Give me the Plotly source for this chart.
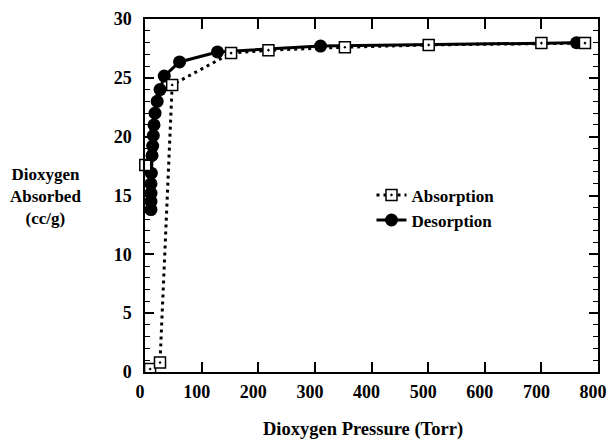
import plotly.graph_objects as go

# Absorption (open squares, dotted line)
abs_x = [9, 26.5, 48, 152, 218, 353, 501, 700, 777]
abs_y = [0.25, 0.8, 24.4, 27.1, 27.35, 27.6, 27.8, 27.95, 27.95]

# Desorption (filled circles, solid line) - listed from high to low pressure
des_x = [762, 310, 128, 61, 34, 26.5, 21.5, 17.7, 15.9, 14.7, 13.6, 12.4, 11.1, 10.6, 10.5, 10.5, 10.5]
des_y = [27.98, 27.7, 27.2, 26.35, 25.15, 24.0, 23.0, 22.0, 21.0, 20.1, 19.2, 18.4, 16.9, 16.0, 15.2, 14.5, 13.8]

# stray open square at the axis
extra_x = [0.5]
extra_y = [17.6]

x_ticks = [0, 100, 200, 300, 400, 500, 600, 700, 800]
y_ticks = [0, 5, 10, 15, 20, 25, 30]

FONT = "Liberation Serif"

fig = go.Figure()
fig.add_trace(go.Scatter(
    x=des_x, y=des_y, mode="lines+markers", name="<b>Desorption</b>",
    line=dict(color="black", width=3),
    marker=dict(symbol="circle", size=13, color="black"),
    legendrank=2,
))
fig.add_trace(go.Scatter(
    x=abs_x, y=abs_y, mode="lines+markers", name="<b>Absorption</b>",
    line=dict(color="black", width=3, dash="3px,4px"),
    marker=dict(symbol="square-dot", size=11, color="white",
                line=dict(color="black", width=1.5)),
    legendrank=1,
))
fig.add_trace(go.Scatter(
    x=extra_x, y=extra_y, mode="markers", showlegend=False,
    marker=dict(symbol="square", size=11, color="white",
                line=dict(color="black", width=1.5)),
    cliponaxis=False,
))

fig.update_layout(
    width=608, height=441,
    margin=dict(l=145, r=10, t=19, b=69, autoexpand=False),
    paper_bgcolor="white", plot_bgcolor="white",
    font=dict(family=FONT, size=17, color="black"),
    showlegend=True,
    legend=dict(x=0.5, y=0.465, xanchor="left", yanchor="middle",
                bgcolor="rgba(0,0,0,0)", font=dict(family=FONT, size=17),
                tracegroupgap=0),
    xaxis=dict(
        range=[0, 800], tickvals=x_ticks,
        ticktext=["<b>%d</b>" % v for v in x_ticks],
        ticks="inside", ticklen=10, tickwidth=1.5, tickcolor="black",
        showline=True, linecolor="black", linewidth=1.5, mirror="ticks",
        showgrid=False, zeroline=False, automargin=False,
        tickfont=dict(family=FONT, size=18),
        ticklabelstandoff=3, ticklabelshift=-5, ticklabeloverflow="allow",
    ),
    yaxis=dict(
        range=[0, 30], tickvals=y_ticks,
        ticktext=["<b>%d</b>" % v for v in y_ticks],
        ticks="inside", ticklen=9, tickwidth=1.5, tickcolor="black",
        showline=True, linecolor="black", linewidth=1.5, mirror="ticks",
        showgrid=False, zeroline=False, automargin=False,
        minor=dict(dtick=1, ticks="inside", ticklen=5, tickwidth=1, tickcolor="black", showgrid=False),
        tickfont=dict(family=FONT, size=18),
        ticklabelstandoff=8,
    ),
    annotations=[
        dict(text="<b>Dioxygen<br>Absorbed<br>(cc/g)</b>", xref="paper", yref="paper",
             x=-0.22, y=0.496, xanchor="center", yanchor="middle", showarrow=False,
             font=dict(family=FONT, size=17), align="center"),
        dict(text="<b>Dioxygen Pressure (Torr)</b>", xref="paper", yref="paper",
             x=0.481, y=-0.164, xanchor="center", yanchor="middle", showarrow=False,
             font=dict(family=FONT, size=18.5)),
    ],
)

fig.write_html("out.html")
